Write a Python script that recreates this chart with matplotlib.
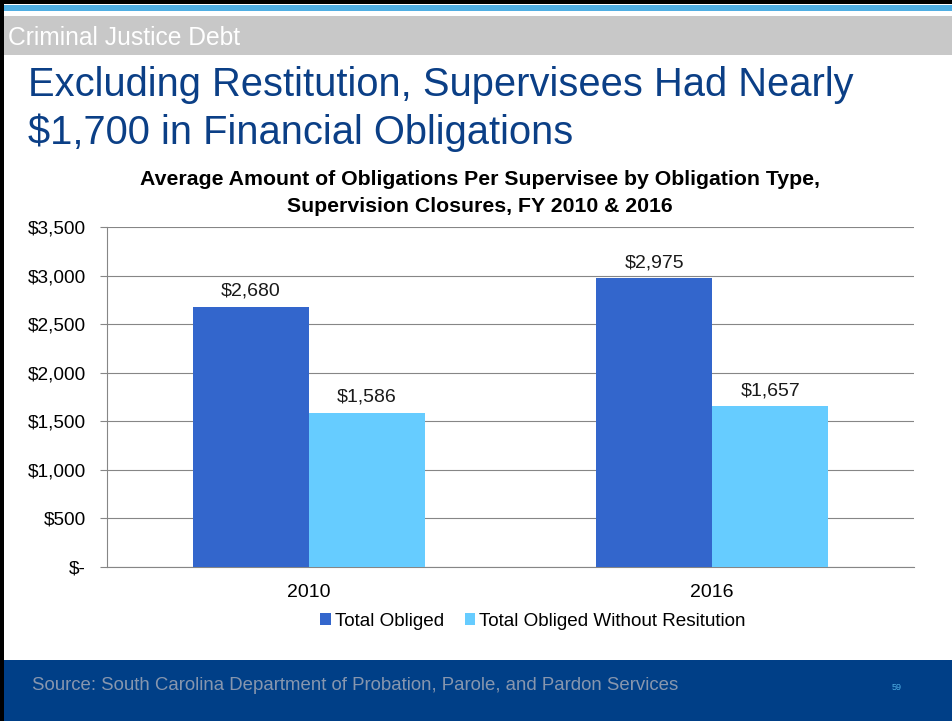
import matplotlib
matplotlib.use("Agg")
import matplotlib.pyplot as plt
import matplotlib.ticker as mticker
from matplotlib.patches import Rectangle

plt.rcParams['font.family'] = ['Liberation Sans', 'DejaVu Sans']

# ── data ─────────────────────────────────────────────────────────────
years = ["2010", "2016"]
total_obliged = [2680, 2975]
without_restitution = [1586, 1657]
series_names = ["Total Obliged", "Total Obliged Without Resitution"]
y_ticks = [0, 500, 1000, 1500, 2000, 2500, 3000, 3500]

W, H = 953, 721
fig = plt.figure(figsize=(W / 100, H / 100), dpi=100)
fig.patch.set_facecolor("white")


def px_rect(x0, y0, x1, y1, color):
    # pixel coords, y from top
    fig.patches.append(Rectangle((x0 / W, 1 - y1 / H), (x1 - x0) / W, (y1 - y0) / H,
                                 transform=fig.transFigure, facecolor=color,
                                 edgecolor="none", zorder=0))


def px_text(x, y, s, **kw):
    return fig.text(x / W, 1 - y / H, s, **kw)


# ── slide decoration ─────────────────────────────────────────────────
px_rect(0, 0, W, 4, "black")
px_rect(0, 0, 4, H, "black")
px_rect(4, 5, W, 11, "#4FAEE3")
px_rect(4, 16, W, 55, "#C8C8C8")
px_rect(4, 660, W, H, "#003F87")

px_text(8, 38, "Criminal Justice Debt", color="white", fontsize=17.7,
        va="center", ha="left")
for yb, line in [(96, "Excluding Restitution, Supervisees Had Nearly"),
                 (144, "$1,700 in Financial Obligations")]:
    px_text(28, yb, line, color="#0B3F86", fontsize=28.7,
            va="baseline", ha="left")
px_text(32, 685,
        "Source: South Carolina Department of Probation, Parole, and Pardon Services",
        color="#8796AE", fontsize=13.4, va="center", ha="left")
px_text(897, 688, "59", color="#4FAEE3", fontsize=6.5, va="center", ha="center")

# ── chart ────────────────────────────────────────────────────────────
ax = fig.add_axes([107 / W, (H - 567) / H, 807 / W, 340 / H])
x = range(len(years))
bw = 0.2875
b1 = ax.bar([i - bw / 2 for i in x], total_obliged, bw, color="#3366CC",
            label=series_names[0], zorder=3)
b2 = ax.bar([i + bw / 2 for i in x], without_restitution, bw, color="#66CCFF",
            label=series_names[1], zorder=3)

for bars in (b1, b2):
    for r in bars:
        ax.annotate(f"${r.get_height():,.0f}",
                    (r.get_x() + r.get_width() / 2, r.get_height()),
                    xytext=(0, 5), textcoords="offset points",
                    ha="center", va="bottom", fontsize=14, color="#1a1a1a")

ax.set_xlim(-0.5, 1.5)
ax.set_ylim(0, 3500)
ax.set_yticks(y_ticks)
ax.yaxis.set_major_formatter(
    mticker.FuncFormatter(lambda v, p: "$-" if v == 0 else f"${v:,.0f}"))
ax.set_xticks(list(x))
ax.set_xticklabels(years)
ax.tick_params(axis="y", length=5, color="#868686", labelsize=13.7, pad=10)
ax.tick_params(axis="x", length=0, labelsize=14, pad=12)
ax.grid(axis="y", color="#868686", lw=0.8, zorder=0)
for s in ("top", "right"):
    ax.spines[s].set_visible(False)
for s in ("left", "bottom"):
    ax.spines[s].set_color("#868686")
    ax.spines[s].set_linewidth(0.8)

# chart title, centred a bit left of the plot area as in the original
for yb, line in [(185, "Average Amount of Obligations Per Supervisee by Obligation Type,"),
                 (212, "Supervision Closures, FY 2010 & 2016")]:
    px_text(480, yb, line, fontsize=15.3, fontweight="bold",
            va="baseline", ha="center")

fig.legend(handles=[b1, b2], loc="center", bbox_to_anchor=(533 / W, 1 - 621 / H),
           ncol=2, frameon=False, fontsize=13.6, handlelength=0.55,
           handleheight=0.55, handletextpad=0.22, columnspacing=1.1)

fig.savefig("out.png", dpi=100)
